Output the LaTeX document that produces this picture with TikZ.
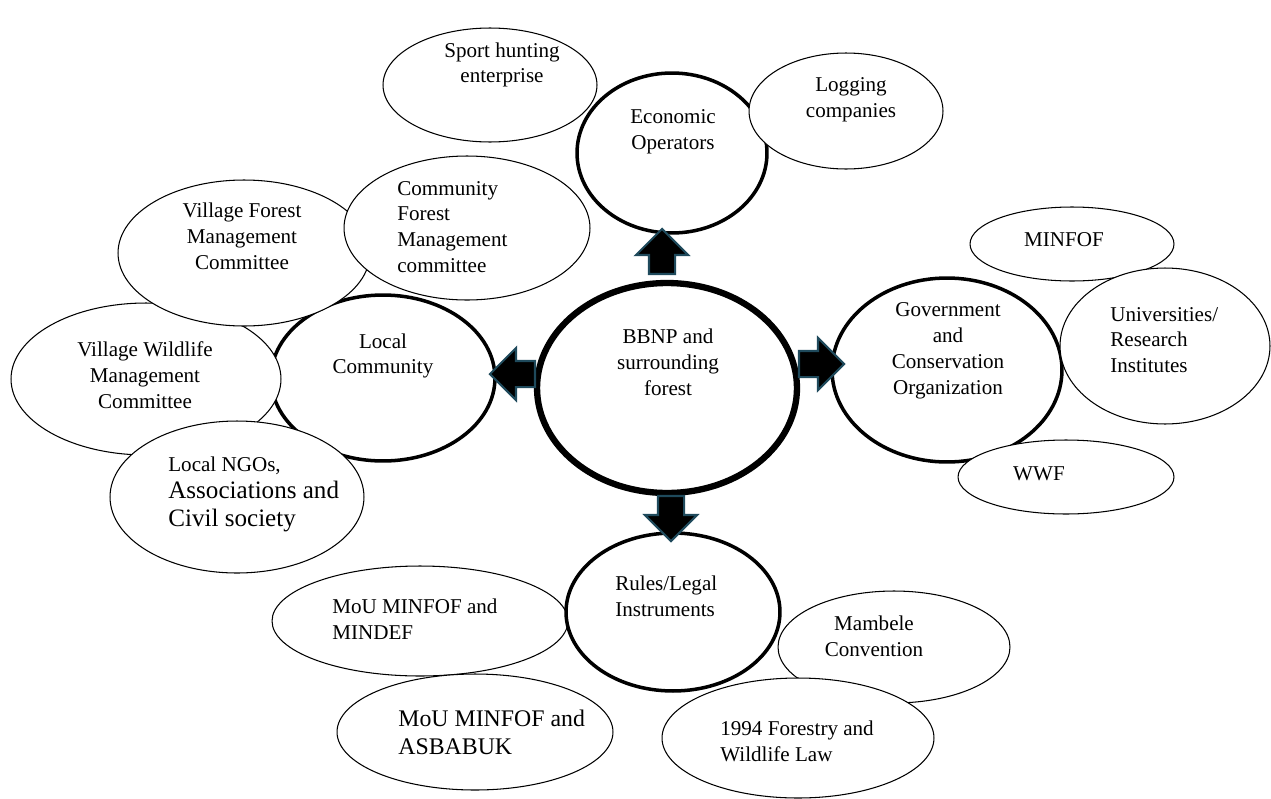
\documentclass[tikz,border=0pt]{standalone}
\usepackage{graphicx}
\usepackage{fontspec}
\setmainfont{Liberation Serif}
\usetikzlibrary{shapes.geometric, shapes.arrows, positioning}
\definecolor{arrowedge}{HTML}{1F4A5C}
\newcommand{\ngobig}[1]{\scalebox{1.19}{#1}}
\newcommand{\mouBig}[1]{\scalebox{1.13}{#1}}

\tikzset{
  bubble/.style={ellipse, draw, fill=white, line width=0.6pt, inner sep=0pt},
  hub/.style={bubble, line width=2pt},
  core/.style={bubble, line width=3.6pt},
  txt/.style={font=\fontsize{12}{14.7}\selectfont, align=center, inner sep=0pt},
  txtl/.style={txt, align=left, anchor=west},
  blockarrow/.style={single arrow, draw=arrowedge, fill=black, line width=1.2pt,
    minimum height=0.9cm, inner xsep=0pt, inner ysep=0.24cm, single arrow head extend=0.26cm},
}

\begin{document}
\begin{tikzpicture}[x=0.02cm, y=-0.02cm]
  \useasboundingbox (0,0) rectangle (1271,798);

  % hubs
  \node[hub, minimum width=3.8cm, minimum height=3.2cm] (econ) at (672,153) {};
  \node[hub, minimum width=4.48cm, minimum height=3.32cm] (local) at (383,378) {};
  \node[hub, minimum width=4.6cm, minimum height=3.68cm] (gov) at (947,370) {};

  % local community satellites
  \node[bubble, minimum width=5.4cm, minimum height=3.04cm] (vwmc) at (146,379) {};
  \node[bubble, minimum width=5.04cm, minimum height=2.92cm] (vfmc) at (244,253) {};
  \node[bubble, minimum width=4.92cm, minimum height=2.88cm] (cfmc) at (467,228) {};
  \node[bubble, minimum width=5.08cm, minimum height=3.04cm] (ngo) at (237,497) {};

  % economic satellites
  \node[bubble, minimum width=4.28cm, minimum height=2.28cm] (sport) at (490,85) {};
  \node[bubble, minimum width=3.88cm, minimum height=2.32cm] (logging) at (846,111) {};

  % government satellites
  \node[bubble, minimum width=4.08cm, minimum height=1.48cm] (minfof) at (1072,244) {};
  \node[bubble, minimum width=4.2cm, minimum height=3.12cm] (univ) at (1165,346) {};
  \node[bubble, minimum width=4.32cm, minimum height=1.48cm] (wwf) at (1066,477) {};

  % rules satellites
  \node[bubble, minimum width=5.92cm, minimum height=2.2cm] (mindef) at (420,621) {};
  \node[bubble, minimum width=5.52cm, minimum height=2.32cm] (asbabuk) at (475,732) {};
  \node[bubble, minimum width=4.64cm, minimum height=2.24cm] (mambele) at (894,647) {};
  \node[bubble, minimum width=5.44cm, minimum height=2.4cm] (law) at (798,738) {};
  \node[hub, minimum width=4.28cm, minimum height=3.16cm] (rules) at (673,612) {};

  % centre
  \node[core, minimum width=5.2cm, minimum height=4.2cm] (bbnp) at (667,388) {};

  % texts
  \node[txt] (bbnpT) at (668,362) {BBNP and\\surrounding\\forest};
  \node[txt] (econT) at (673,132) {Economic\\Operators};
  \node[txt] (sportT) at (502,65) {Sport hunting\\enterprise};
  \node[txt] (loggingT) at (851,100) {Logging\\companies};
  \node[txt] (localT) at (383,356) {Local\\Community};
  \node[txt] (vfmcT) at (242,236) {Village Forest\\Management\\Committee};
  \node[txtl] (cfmcT) at (397,227) {Community\\Forest\\Management\\committee};
  \node[txt] (vwmcT) at (145,375) {Village Wildlife\\Management\\Committee};
  \node[txtl, font=\fontsize{12}{15.6}\selectfont] (ngoT) at (168,494) {Local NGOs,\\\ngobig{Associations and}\\\ngobig{Civil society}};
  \node[txt] (govT) at (948,351) {Government\\and\\Conservation\\Organization};
  \node[txt] (minfofT) at (1064,240) {MINFOF};
  \node[txtl] (univT) at (1110,340) {Universities/\\Research\\Institutes};
  \node[txt] (wwfT) at (1039,474) {WWF};
  \node[txtl] (rulesT) at (615,596) {Rules/Legal\\Instruments};
  \node[txtl] (mindefT) at (332,619) {MoU MINFOF and\\MINDEF};
  \node[txt] (mambeleT) at (874,636) {Mambele\\Convention};
  \node[txtl, font=\fontsize{12}{15.9}\selectfont] (asbabukT) at (398,732) {\mouBig{MoU MINFOF and}\\\mouBig{ASBABUK}};
  \node[txtl] (lawT) at (720,741) {1994 Forestry and\\Wildlife Law};

  % block arrows out of the centre
  \node[blockarrow, rotate=90] (toEcon) at (662,258) {};
  \node[blockarrow, rotate=180] (toLocal) at (519,374) {};
  \node[blockarrow] (toGov) at (815,364) {};
  \node[blockarrow, rotate=-90] (toRules) at (671,512) {};
\end{tikzpicture}
\end{document}
